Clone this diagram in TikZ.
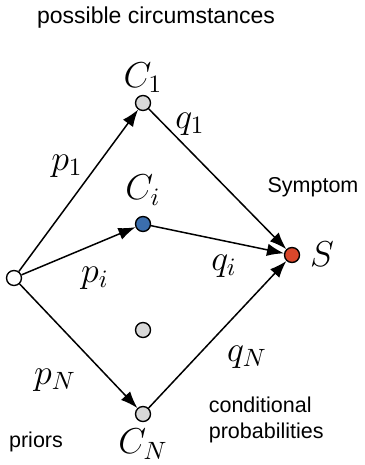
\documentclass[tikz,border=0pt]{standalone}
\usepackage{fontspec}
\setsansfont{Liberation Sans}
\usepackage{tikz}
\usetikzlibrary{arrows.meta}
\definecolor{nodegrey}{rgb}{0.85,0.85,0.85}
\definecolor{causeblue}{rgb}{0.23,0.43,0.68}
\definecolor{symptomred}{rgb}{0.85,0.28,0.17}

\begin{document}
\begin{tikzpicture}[
  x=0.4pt, y=-0.4pt,
  >={Latex[length=6.8pt,width=5pt]},
  dot/.style={
    circle, draw=black, line width=0.55pt,
    fill=nodegrey, minimum size=6pt, inner sep=0pt
  },
  mathlabel/.style={font=\fontsize{13.6}{16}\selectfont},
  textlabel/.style={font=\sffamily\fontsize{8.6}{10.5}\selectfont, align=left},
  edge/.style={->, line width=0.6pt}
]
\useasboundingbox (0,0) rectangle (365,465);

% Nodes
\node[dot, fill=white] (root) at (14, 278) {};
\node[dot] (c1) at (143, 103) {};
\node[dot, fill=causeblue] (ci) at (143, 224) {};
\node[dot] (cmid) at (143, 330) {};
\node[dot] (cn) at (143, 414) {};
\node[dot, fill=symptomred] (s) at (292, 255) {};

% Priors
\draw[edge] (root) -- (c1);
\draw[edge] (root) -- (ci);
\draw[edge] (root) -- (cn);

% Conditional probabilities
\draw[edge] (c1) -- (s);
\draw[edge] (ci) -- (s);
\draw[edge] (cn) -- (s);

% Math labels
\node[mathlabel] (lc1) at (143, 78) {$C_1$};
\node[mathlabel] (lci) at (143, 190) {$C_i$};
\node[mathlabel] (lcn) at (143, 444) {$C_N$};
\node[mathlabel] (ls) at (322, 254) {$S$};
\node[mathlabel] (lp1) at (67, 166) {$p_1$};
\node[mathlabel] (lpi) at (95, 278) {$p_i$};
\node[mathlabel] (lpn) at (55, 380) {$p_N$};
\node[mathlabel] (lq1) at (190, 124) {$q_1$};
\node[mathlabel] (lqi) at (224, 266) {$q_i$};
\node[mathlabel] (lqn) at (247, 357) {$q_N$};

% Text labels
\node[textlabel, font=\sffamily\fontsize{9.2}{11}\selectfont] (title) at (156, 18) {possible circumstances};
\node[textlabel] (symptom) at (313, 187) {Symptom};
\node[textlabel] (priors) at (36, 442) {priors};
\node[textlabel, anchor=west] (condprob) at (200, 420) {conditional\\probabilities};

\end{tikzpicture}
\end{document}
